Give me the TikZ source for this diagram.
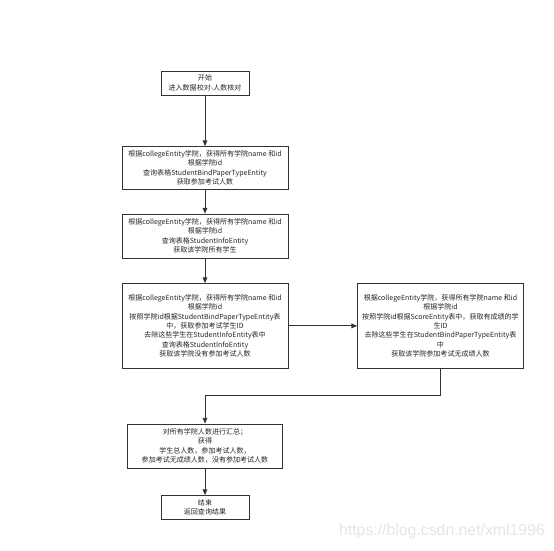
\documentclass[tikz,border=0pt]{standalone}
\usepackage{fontspec}
\setmainfont{Noto Sans CJK SC}
\newfontfamily\urlfont{Liberation Sans}
\usetikzlibrary{arrows.meta,positioning,calc}

\begin{document}
\begin{tikzpicture}[
    node distance=0.75cm,
    box/.style={rectangle, draw=black!80, fill=white, align=center, inner sep=2pt, font=\fontsize{6}{8}\selectfont, text=black!85},
    wide/.style={box, minimum width=4.98cm},
    small/.style={box, minimum width=2.64cm, minimum height=0.72cm},
    arrow/.style={-{Triangle[length=5pt,width=4pt]}, draw=black!80, thick}
]
\useasboundingbox (0,0) rectangle (16.62,-16.5);

% Main column
\node[small] (start) at (6.15,-2.49) {开始\\进入数据校对-人数核对};
\node[wide, minimum height=1.29cm, below=1.53cm of start] (bind) {根据collegeEntity学院，获得所有学院name 和id\\根据学院id\\查询表格StudentBindPaperTypeEntity\\获取参加考试人数};
\node[wide, minimum height=1.32cm, below=0.72cm of bind] (info) {根据collegeEntity学院，获得所有学院name 和id\\根据学院id\\查询表格StudentInfoEntity\\获取该学院所有学生};
\node[wide, minimum height=2.55cm, below=0.75cm of info] (absent) {根据collegeEntity学院，获得所有学院name 和id\\根据学院id\\按照学院id根据StudentBindPaperTypeEntity表\\中，获取参加考试学生ID\\去除这些学生在StudentInfoEntity表中\\查询表格StudentInfoEntity\\获取该学院没有参加考试人数};

% Right branch
\node[wide, minimum height=2.55cm, right=2.07cm of absent] (noscore) {根据collegeEntity学院，获得所有学院name 和id\\根据学院id\\按照学院id根据ScoreEntity表中，获取有成绩的学\\生ID\\去除这些学生在StudentBindPaperTypeEntity表\\中\\获取该学院参加考试无成绩人数};

% Summary and end
\node[box, minimum width=4.65cm, minimum height=1.32cm, below=1.65cm of absent] (total) {对所有学院人数进行汇总；\\获得\\学生总人数，参加考试人数，\\参加考试无成绩人数，没有参加考试人数};
\node[small, below=0.81cm of total] (finish) {结束\\返回查询结果};

% Arrows
\draw[arrow] (start) -- (bind);
\draw[arrow] (bind) -- (info);
\draw[arrow] (info) -- (absent);
\draw[arrow] (absent) -- (noscore);
\coordinate (turn) at ($(noscore.south)+(0,-0.81)$);
\draw[arrow] (noscore.south) -- (turn) -| (total.north);
\draw[arrow] (total) -- (finish);

% Watermark
\node[text=black!10, font=\urlfont\fontsize{13.5}{15}\selectfont] (mark) at (13.26,-15.93) {https://blog.csdn.net/xml1996};

\end{tikzpicture}
\end{document}
